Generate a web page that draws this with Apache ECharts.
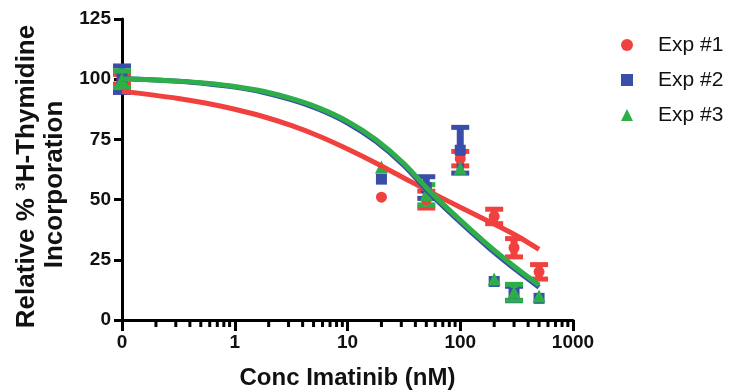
<!DOCTYPE html>
<html>
<head>
<meta charset="utf-8">
<script src="https://cdn.jsdelivr.net/npm/echarts@6/dist/echarts.min.js"></script>
<style>
  html, body { margin: 0; padding: 0; background: #fff; }
  #chart { width: 734px; height: 390px; }
</style>
</head>
<body>
<div id="chart"></div>
<script>
// concentrations (nM); 0 sits at the left end of the log axis
const conc = [0, 20, 50, 100, 200, 300, 500]

const exp1Mean = [100, 51, 50, 67, 43, 30, 20]
const exp1Err  = [2, 0, 3.5, 3, 3, 3.8, 3]
const exp2Mean = [100, 58.5, 55, 70.5, 16, 11, 9]
const exp2Err  = [5.5, 0, 4.5, 9.5, 0, 3, 0]
const exp3Mean = [100, 63.5, 52, 63, 17, 11.5, 10]
const exp3Err  = [3.5, 0, 4.2, 0, 0, 3.3, 0]

// fitted curves, every quarter decade
const fitConc = [0.1, 0.178, 0.316, 0.562, 1, 1.78, 3.16, 5.62, 10, 17.8, 31.6, 56.2, 100, 178, 316, 500]
const fit1 = [95, 93.6, 92, 90, 87.5, 84.5, 80.8, 76.3, 71, 65.2, 59, 52.8, 46.8, 41, 35, 29.3]
const fit2 = [100.2, 99.8, 99.1, 98.1, 96.7, 94.6, 91.5, 87.4, 81.8, 74.2, 64.2, 51.7, 40.6, 30.1, 20.6, 13.6]
const fit3 = [100.2, 99.8, 99.2, 98.3, 97, 95, 92, 88, 82.5, 75, 65, 52.5, 41.5, 31, 21.5, 14.5]

const expNames = ['Exp #1', 'Exp #2', 'Exp #3']
const colors = ['#F0413F', '#3A4DA8', '#2DAE48']
const symbols = ['circle', 'rect', 'triangle']

const X_MIN = 0.1
const X_MAX = 1000
const FONT = '"Liberation Sans", Arial, Helvetica, sans-serif'

// minor ticks of the log axis (2..9 in each decade)
const minorTicks = []
for (let d = X_MIN; d < X_MAX; d *= 10) {
  for (let k = 2; k <= 9; k++) minorTicks.push([+(d * k).toPrecision(3), 0])
}

const xOf = c => (c === 0 ? X_MIN : c)

const errorBar = color => (params, api) => {
  const x = api.value(0)
  const top = api.coord([x, api.value(2)])
  const bot = api.coord([x, api.value(1)])
  const capW = 18, capH = 5, stemW = 7
  return {
    type: 'group',
    children: [
      { type: 'rect', shape: { x: top[0] - stemW / 2, y: top[1], width: stemW, height: bot[1] - top[1] }, style: { fill: color } },
      { type: 'rect', shape: { x: top[0] - capW / 2, y: top[1] - capH / 2, width: capW, height: capH }, style: { fill: color } },
      { type: 'rect', shape: { x: bot[0] - capW / 2, y: bot[1] - capH / 2, width: capW, height: capH }, style: { fill: color } }
    ]
  }
}

const means = [exp1Mean, exp2Mean, exp3Mean]
const errs = [exp1Err, exp2Err, exp3Err]
const fits = [fit1, fit2, fit3]

const series = []

fits.forEach((f, i) => {
  series.push({
    name: 'Fit ' + (i + 1),
    type: 'line',
    smooth: 0.3,
    showSymbol: false,
    silent: true,
    lineStyle: { color: colors[i], width: 5 },
    data: fitConc.map((c, j) => [c, f[j]])
  })
})

means.forEach((m, i) => {
  series.push({
    name: expNames[i] + ' err',
    type: 'custom',
    clip: false,
    silent: true,
    renderItem: errorBar(colors[i]),
    encode: { x: 0, y: [1, 2] },
    data: conc
      .map((c, j) => [xOf(c), m[j] - errs[i][j], m[j] + errs[i][j]])
      .filter((d, j) => errs[i][j] > 0)
  })
  series.push({
    name: expNames[i],
    type: 'scatter',
    symbol: symbols[i],
    symbolSize: i === 2 ? 13 : 11,
    itemStyle: { color: colors[i], opacity: 1 },
    data: conc.map((c, j) => [xOf(c), m[j]])
  })
})

series.push({
  type: 'custom',
  clip: false,
  silent: true,
  encode: { x: 0, y: 1 },
  renderItem: (params, api) => {
    const p = api.coord([api.value(0), 0])
    return {
      type: 'line',
      shape: { x1: p[0], y1: p[1], x2: p[0], y2: p[1] + 7 },
      style: { stroke: '#000', lineWidth: 3 }
    }
  },
  data: minorTicks
})

const chart = echarts.init(document.getElementById('chart'))

chart.setOption({
  animation: false,
  backgroundColor: '#fff',
  textStyle: { fontFamily: FONT },
  grid: { left: 122, right: 161, top: 19, bottom: 70, containLabel: false, outerBoundsMode: 'none' },
  legend: {
    orient: 'vertical',
    left: 616,
    top: 29,
    itemWidth: 12,
    itemHeight: 12,
    itemGap: 13,
    textStyle: { fontFamily: FONT, fontSize: 21, color: '#111', lineHeight: 22, padding: [0, 0, 0, 20] },
    data: expNames.map((n, i) => ({ name: n, icon: symbols[i] }))
  },
  xAxis: {
    type: 'log',
    logBase: 10,
    min: X_MIN,
    max: X_MAX,
    splitNumber: 4,
    name: 'Conc Imatinib (nM)',
    nameLocation: 'middle',
    nameGap: 46,
    nameTextStyle: { fontFamily: FONT, fontSize: 24, fontWeight: 'bold', color: '#111' },
    axisLine: { lineStyle: { color: '#000', width: 3 } },
    axisTick: { length: 11, lineStyle: { color: '#000', width: 3 } },
    axisLabel: {
      margin: 13,
      fontFamily: FONT,
      fontSize: 19,
      fontWeight: 'bold',
      color: '#111',
      formatter: v => (v < 0.5 ? '0' : String(Math.round(v)))
    },
    splitLine: { show: false },
    minorTick: { show: false }
  },
  yAxis: {
    type: 'value',
    min: 0,
    max: 125,
    interval: 25,
    name: '{a|Relative % ³H-Thymidine}\n{b|Incorporation}',
    nameLocation: 'middle',
    nameRotate: 90,
    nameGap: 50,
    nameTextStyle: {
      fontFamily: FONT,
      fontSize: 26,
      fontWeight: 'bold',
      color: '#111',
      lineHeight: 28,
      rich: {
        a: { fontFamily: FONT, fontSize: 26, fontWeight: 'bold', color: '#111', lineHeight: 28, padding: [0, 14, 0, 0] },
        b: { fontFamily: FONT, fontSize: 26, fontWeight: 'bold', color: '#111', lineHeight: 28, padding: [0, 30, 0, 0] }
      }
    },
    axisLine: { show: true, lineStyle: { color: '#000', width: 3 } },
    axisTick: { show: true, length: 8, lineStyle: { color: '#000', width: 3 } },
    axisLabel: { margin: 11, fontFamily: FONT, fontSize: 19, fontWeight: 'bold', color: '#111' },
    splitLine: { show: false }
  },
  series: series
})
</script>
</body>
</html>
